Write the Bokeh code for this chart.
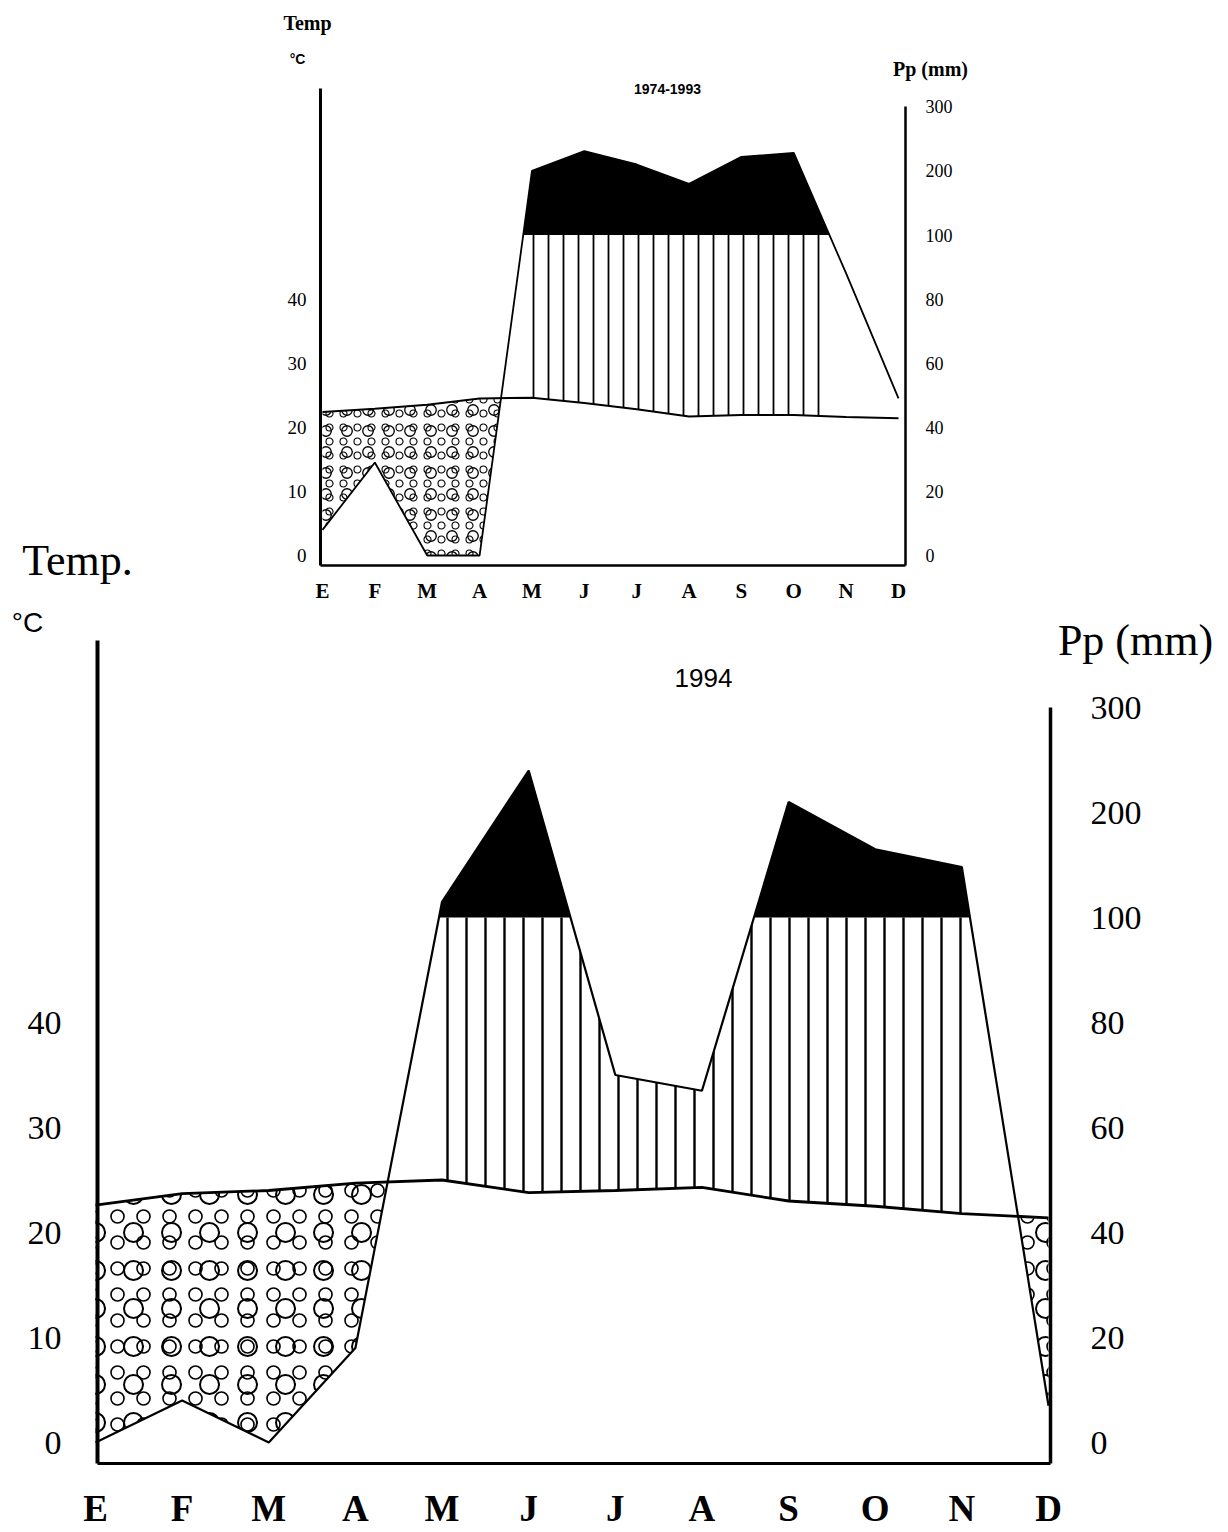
import numpy as np
from bokeh.plotting import figure
from bokeh.models import LinearAxis, FixedTicker, Range1d, Label
from bokeh.embed import file_html
from bokeh.resources import INLINE

# ---------------- data ----------------
months = ["E", "F", "M", "A", "M", "J", "J", "A", "S", "O", "N", "D"]

temp_7493 = [22.4, 22.9, 23.5, 24.5, 24.6, 23.8, 22.8, 21.7, 21.9, 21.9, 21.6, 21.4]
precip_7493 = [8, 29, 0, 0, 200, 231, 210, 180, 222, 228, 88, 49]

temp_1994 = [22.6, 23.7, 24.0, 24.7, 25.0, 23.8, 24.0, 24.3, 23.0, 22.5, 21.8, 21.4]
precip_1994 = [0, 8, 0, 18, 115, 240, 70, 67, 210, 165, 148, 7]

temp_ticks = [0, 10, 20, 30, 40]
precip_tick_mm = [0, 20, 40, 60, 80, 100, 200, 300]

SERIF = "Liberation Serif"
SANS = "Liberation Sans"
PAGE_W = 1220


def p2u(p):
    """Walter-Lieth scale: 20 mm = 10 degC up to 100 mm, then 100 mm = 10 degC."""
    p = np.asarray(p, dtype=float)
    return np.where(p <= 100, p / 2.0, 50 + (p - 100) / 10.0)


def crossings(x, a, b):
    out = []
    d = np.asarray(a) - np.asarray(b)
    for i in range(len(x) - 1):
        if d[i] * d[i + 1] < 0:
            f = d[i] / (d[i] - d[i + 1])
            out.append(x[i] + f * (x[i + 1] - x[i]))
    return out


class Geo:
    """Maps page pixel positions to the data space of one figure."""
    def __init__(self, x0, dx, y0, dy, top, height, base):
        self.x0, self.dx, self.y0, self.dy = x0, dx, y0, dy
        self.top, self.height, self.base = top, height, base

    def x(self, px):
        return (px - self.x0) / self.dx

    def y(self, py):
        return (self.y0 - py) / self.dy


def make_fig(g):
    p = figure(width=PAGE_W, height=g.height, output_backend="svg",
               toolbar_location=None,
               x_range=Range1d(g.x(0), g.x(PAGE_W)),
               y_range=Range1d(g.y(g.top + g.height), g.y(g.top)),
               min_border_left=0, min_border_right=0, min_border_top=0,
               min_border_bottom=0,
               x_axis_type=None, y_axis_type=None)
    p.background_fill_color = "white"
    p.border_fill_color = "white"
    p.outline_line_color = None
    return p


def climate(p, temp, precip, hatch_v, rings, t_w, p_w, v_w):
    xm = np.arange(len(months), dtype=float)
    t = np.asarray(temp, dtype=float)
    pu = p2u(precip)
    c100 = crossings(xm, pu, np.full_like(pu, 50.0))
    ct = crossings(xm, pu, t)
    xs = np.unique(np.concatenate([xm, c100, ct]))
    ti = np.interp(xs, xm, t)
    pi = np.interp(xs, xm, pu)

    # dry season (temperature above precipitation): pebble texture
    for sc, w in rings:
        p.varea(x=xs, y1=np.minimum(pi, ti), y2=ti, fill_alpha=0,
                hatch_pattern="ring", hatch_color="black", hatch_scale=sc,
                hatch_weight=w)
    # humid season (vertical lines) between first and last 100 mm crossings
    if len(c100) >= 2:
        lo, hi = min(c100), max(c100)
        m = (xs >= lo - 1e-9) & (xs <= hi + 1e-9)
        p.varea(x=xs[m], y1=ti[m], y2=np.maximum(ti[m], np.minimum(pi[m], 50)),
                fill_alpha=0, hatch_pattern="vertical_line", hatch_color="black",
                hatch_scale=hatch_v, hatch_weight=v_w)
    # perhumid (> 100 mm) solid black
    p.varea(x=xs, y1=np.full_like(xs, 50.0), y2=np.maximum(pi, 50), fill_color="black")

    p.line(xm, pu, line_color="black", line_width=p_w)
    p.line(xm, t, line_color="black", line_width=t_w)


def add_axes(p, g, left_px, right_px, left_top_py,
             fs_y, fs_x, fs_r, lw_l, lw_r, lw_b, so_l, so_r, so_b):
    xl, xr, yb = g.x(left_px), g.x(right_px), g.y(g.base)

    xa = LinearAxis(ticker=FixedTicker(ticks=list(range(12))))
    xa.major_label_overrides = {i: m for i, m in enumerate(months)}
    xa.major_label_text_font = SERIF
    xa.major_label_text_font_style = "bold"
    xa.major_label_text_font_size = fs_x
    xa.major_label_text_color = "black"
    xa.major_label_standoff = so_b
    xa.axis_line_width = lw_b
    xa.major_tick_line_color = None
    xa.minor_tick_line_color = None
    xa.fixed_location = yb
    xa.bounds = (xl, xr)
    p.add_layout(xa, "below")

    la = LinearAxis(ticker=FixedTicker(ticks=temp_ticks))
    la.major_label_text_font = SERIF
    la.major_label_text_font_size = fs_y
    la.major_label_text_color = "black"
    la.major_label_standoff = so_l
    la.axis_line_width = lw_l
    la.major_tick_line_color = None
    la.minor_tick_line_color = None
    la.fixed_location = xl
    la.bounds = (yb, g.y(left_top_py))
    p.add_layout(la, "left")

    ru = [float(v) for v in p2u(precip_tick_mm)]
    ra = LinearAxis(ticker=FixedTicker(ticks=ru))
    ra.major_label_overrides = {u: str(mm) for u, mm in zip(ru, precip_tick_mm)}
    ra.major_label_text_font = SERIF
    ra.major_label_text_font_size = fs_r
    ra.major_label_text_color = "black"
    ra.major_label_standoff = so_r
    ra.axis_line_width = lw_r
    ra.major_tick_line_color = None
    ra.minor_tick_line_color = None
    ra.fixed_location = xr
    ra.bounds = (yb, 70)
    p.add_layout(ra, "right")


def add_text(p, g, px, py, text, font, size, style="normal"):
    p.add_layout(Label(x=g.x(px), y=g.y(py), text=text, text_font=font,
                       text_font_size=size, text_font_style=style,
                       text_color="black", text_align="center",
                       text_baseline="middle"))


# ---------------- top chart (1974-1993) ----------------
gt = Geo(x0=322.0, dx=(898 - 322) / 11.0, y0=555.0, dy=6.41,
         top=0, height=605, base=565)
tp = make_fig(gt)
climate(tp, temp_7493, precip_7493, hatch_v=15, rings=[(21, 1.3), (14, 1.1)],
        t_w=2.0, p_w=1.8, v_w=1.8)
add_axes(tp, gt, left_px=320, right_px=905, left_top_py=88,
         fs_y="19px", fs_x="21px", fs_r="18px", lw_l=3, lw_r=2.5, lw_b=2.5,
         so_l=8, so_r=14, so_b=7)
add_text(tp, gt, 307, 22, "Temp", SERIF, "20px", "bold")
add_text(tp, gt, 297, 58, "°C", SANS, "14px", "bold")
add_text(tp, gt, 930, 68, "Pp (mm)", SERIF, "20px", "bold")
add_text(tp, gt, 667, 88, "1974-1993", SANS, "14px", "bold")
add_text(tp, gt, 77, 560, "Temp.", SERIF, "44px")

# ---------------- bottom chart (1994) ----------------
gb = Geo(x0=95.0, dx=(1048 - 95) / 11.0, y0=1442.0, dy=10.5,
         top=605, height=927, base=1463)
bp = make_fig(gb)
climate(bp, temp_1994, precip_1994, hatch_v=19, rings=[(38, 2.0), (26, 1.6)],
        t_w=2.8, p_w=2.2, v_w=2.4)
add_axes(bp, gb, left_px=97, right_px=1050, left_top_py=640,
         fs_y="34px", fs_x="37px", fs_r="34px", lw_l=4, lw_r=3.5, lw_b=3,
         so_l=30, so_r=34, so_b=18)
add_text(bp, gb, 27, 622, "°C", SANS, "28px")
add_text(bp, gb, 1135, 640, "Pp (mm)", SERIF, "44px")
add_text(bp, gb, 703, 677, "1994", SANS, "26px")

open("out.html", "w").write(file_html([tp, bp], INLINE))
